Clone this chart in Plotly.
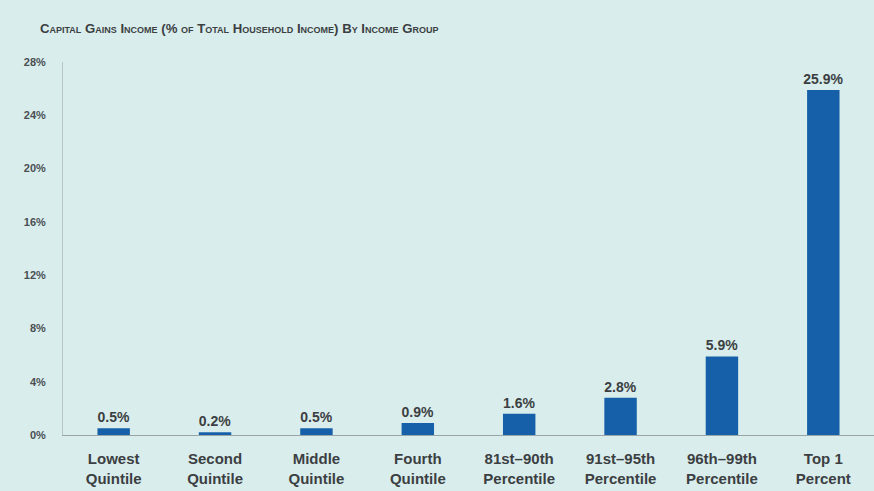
import plotly.graph_objects as go

categories = ["Lowest<br>Quintile", "Second<br>Quintile", "Middle<br>Quintile", "Fourth<br>Quintile",
              "81st–90th<br>Percentile", "91st–95th<br>Percentile", "96th–99th<br>Percentile", "Top 1<br>Percent"]
values = [0.5, 0.2, 0.5, 0.9, 1.6, 2.8, 5.9, 25.9]
y_ticks = [0, 4, 8, 12, 16, 20, 24, 28]
y_tick_labels = [f"{t}%" for t in y_ticks]

bg = "#d9eded"
bar_color = "#1560a8"
text_color = "#3c3f42"
font_family = "Liberation Sans, Arial, sans-serif"

fig = go.Figure(go.Bar(
    x=categories,
    y=values,
    width=0.32,
    marker=dict(color=bar_color, line=dict(width=0)),
    text=[f"<b>{v:.1f}%</b>" for v in values],
    textposition="outside",
    constraintext="none",
    cliponaxis=False,
    textfont=dict(family=font_family, size=14, color=text_color),
))

fig.update_layout(
    width=874, height=491,
    paper_bgcolor=bg, plot_bgcolor=bg,
    margin=dict(l=63, r=0, t=62, b=56),
    showlegend=False,
    title=dict(
        text="<b>Capital Gains Income (% of Total Household Income) By Income Group</b>",
        x=40 / 874, xanchor="left", xref="container",
        y=1 - 28 / 491, yanchor="middle", yref="container",
        font=dict(family=font_family, size=13.2, color=text_color, variant="small-caps"),
    ),
    xaxis=dict(
        showline=True, linecolor="#9aa5a8", linewidth=1,
        ticks="", showgrid=False, zeroline=False,
        ticklabelstandoff=10,
        tickfont=dict(family=font_family, size=15, color=text_color),
        tickprefix="<b>", ticksuffix="</b>",
    ),
    yaxis=dict(
        range=[0, 28],
        tickvals=y_ticks, ticktext=[f"<b>{t}</b>" for t in y_tick_labels],
        showline=True, linecolor="#b8c4c6", linewidth=1,
        ticks="", showgrid=False, zeroline=False,
        ticklabelstandoff=14,
        tickfont=dict(family=font_family, size=11, color="#4a4f52"),
    ),
)

fig.write_html("out.html")
